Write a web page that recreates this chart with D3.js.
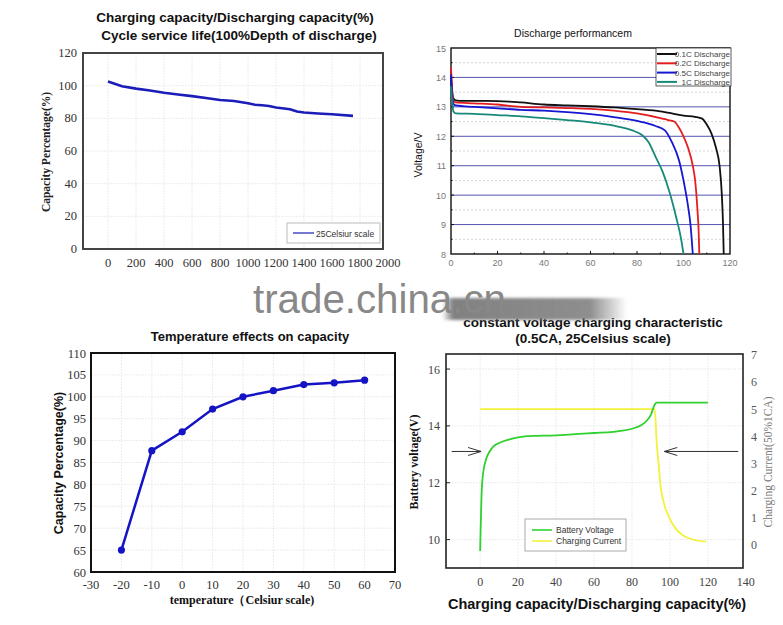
<!DOCTYPE html>
<html>
<head>
<meta charset="utf-8">
<script src="https://cdn.jsdelivr.net/npm/d3@7"></script>
<style>
  body { margin: 0; background: #fff; }
  svg { display: block; }
  .sans { font-family: "Liberation Sans", Arial, sans-serif; }
  .serif { font-family: "Liberation Serif", "Times New Roman", serif; }
</style>
</head>
<body>
<div id="chart"></div>
<script>
// ---- Cycle life (top left)
const cycleX = [0, 100, 200, 300, 400, 500, 600, 700, 800, 900, 1000, 1050, 1100, 1150, 1200, 1300, 1350, 1400, 1500, 1600, 1750];
const cycleY = [102.5, 99.7, 98.2, 97, 95.7, 94.6, 93.6, 92.5, 91.2, 90.6, 89.2, 88.3, 88, 87.6, 86.6, 85.6, 84.2, 83.6, 83, 82.5, 81.5];
const cycleXTicks = [0, 200, 400, 600, 800, 1000, 1200, 1400, 1600, 1800, 2000];
const cycleYTicks = [0, 20, 40, 60, 80, 100, 120];

// ---- Discharge performance (top right)
const dischargeNames = ["0.1C Discharge", "0.2C Discharge", "0.5C Discharge", "1C Discharge"];
const dischargeColors = ["#111111", "#e41e1e", "#1616d2", "#17897a"];
const discharge01X = [0, 0.5, 1, 2, 5, 15, 25, 30, 40, 50, 60, 70, 80, 90, 95, 100, 105, 108, 110, 112, 114, 115.5, 116.5, 117, 117.3];
const discharge01Y = [14.0, 13.5, 13.3, 13.22, 13.2, 13.2, 13.18, 13.15, 13.08, 13.05, 13.02, 12.98, 12.92, 12.85, 12.78, 12.7, 12.66, 12.6, 12.4, 12.1, 11.6, 11.0, 10.0, 9.0, 8.0];
const discharge02X = [0, 0.5, 1, 2, 10, 20, 30, 40, 50, 60, 70, 80, 90, 93, 96, 98, 100, 102, 104, 105, 106, 106.5, 106.8];
const discharge02Y = [14.35, 13.6, 13.2, 13.15, 13.12, 13.08, 13.0, 12.98, 12.96, 12.93, 12.87, 12.78, 12.62, 12.56, 12.5, 12.3, 12.0, 11.6, 11.0, 10.5, 9.5, 8.8, 8.0];
const discharge05X = [0, 0.5, 1, 2, 10, 20, 30, 40, 50, 60, 70, 80, 88, 92, 95, 98, 100, 102, 103, 104];
const discharge05Y = [14.1, 13.4, 13.1, 13.05, 13.0, 12.95, 12.9, 12.87, 12.82, 12.75, 12.65, 12.52, 12.35, 12.2, 11.8, 11.2, 10.5, 9.6, 9.0, 8.0];
const discharge1X = [0, 0.5, 1, 2, 10, 20, 30, 40, 50, 60, 70, 78, 82, 85, 88, 91, 94, 97, 99, 100];
const discharge1Y = [13.7, 13.2, 12.85, 12.78, 12.76, 12.72, 12.68, 12.62, 12.55, 12.47, 12.36, 12.2, 12.05, 11.8, 11.3, 10.8, 10.1, 9.2, 8.5, 8.0];
const dischargeXTicks = [0, 20, 40, 60, 80, 100, 120];
const dischargeYTicks = [8, 9, 10, 11, 12, 13, 14, 15];

// ---- Temperature (bottom left)
const tempX = [-20, -10, 0, 10, 20, 30, 40, 50, 60];
const tempY = [65, 87.7, 92, 97.2, 100, 101.4, 102.8, 103.2, 103.8];
const tempXTicks = [-30, -20, -10, 0, 10, 20, 30, 40, 50, 60, 70];
const tempYTicks = [60, 65, 70, 75, 80, 85, 90, 95, 100, 105, 110];

// ---- Charging characteristic (bottom right)
const chargeVX = [0, 0.3, 0.7, 1.5, 3, 5, 7, 10, 15, 20, 25, 30, 40, 50, 60, 70, 75, 80, 85, 88, 90, 92, 93, 100, 120];
const chargeVY = [9.6, 10.5, 11.5, 12.3, 12.8, 13.1, 13.28, 13.4, 13.52, 13.6, 13.64, 13.65, 13.67, 13.71, 13.75, 13.79, 13.83, 13.9, 14.03, 14.2, 14.4, 14.75, 14.82, 14.82, 14.82];
const chargeIX = [0, 92, 93, 94, 95, 97, 100, 103, 107, 112, 119];
const chargeIY = [5, 5, 3.8, 3.0, 2.2, 1.5, 0.95, 0.6, 0.35, 0.2, 0.12];
const chargeXTicks = [0, 20, 40, 60, 80, 100, 120, 140];
const chargeVTicks = [10, 12, 14, 16];
const chargeITicks = [0, 1, 2, 3, 4, 5, 6, 7];
const chargeNames = ["Battery Voltage", "Charging Current"];
const chargeColors = ["#2fd12f", "#f2f23a"];

const W = 783, H = 625;
const svg = d3.select("#chart").append("svg").attr("width", W).attr("height", H);

function zip(xs, ys) { return xs.map((x, i) => [x, ys[i]]); }

function grid(g, x, y, xt, yt, color, dash) {
    g.selectAll(null).data(xt).enter().append("line")
        .attr("x1", d => x(d)).attr("x2", d => x(d))
        .attr("y1", y.range()[0]).attr("y2", y.range()[1])
        .attr("stroke", color).attr("stroke-dasharray", dash);
    g.selectAll(null).data(yt).enter().append("line")
        .attr("y1", d => y(d)).attr("y2", d => y(d))
        .attr("x1", x.range()[0]).attr("x2", x.range()[1])
        .attr("stroke", color).attr("stroke-dasharray", dash);
}

function frame(g, x, y, color, width) {
    g.append("rect")
        .attr("x", x.range()[0]).attr("y", y.range()[1])
        .attr("width", x.range()[1] - x.range()[0])
        .attr("height", y.range()[0] - y.range()[1])
        .attr("fill", "none").attr("stroke", color).attr("stroke-width", width);
}

function labels(g, ticks, fx, fy, anchor, cls, size, color) {
    g.selectAll(null).data(ticks).enter().append("text")
        .attr("class", cls)
        .attr("x", fx).attr("y", fy)
        .attr("text-anchor", anchor)
        .attr("font-size", size).attr("fill", color)
        .text(d => d);
}

function title(text, x, y, size, cls, weight, color) {
    return svg.append("text").attr("class", cls || "sans")
        .attr("x", x).attr("y", y).attr("text-anchor", "middle")
        .attr("font-size", size).attr("font-weight", weight || "bold")
        .attr("fill", color || "#111").text(text);
}

function vtitle(text, x, y, size, cls, weight, color) {
    return svg.append("text").attr("class", cls)
        .attr("transform", `translate(${x},${y}) rotate(-90)`)
        .attr("text-anchor", "middle")
        .attr("font-size", size).attr("font-weight", weight)
        .attr("fill", color).text(text);
}

// ================= Cycle service life =================
{
    const g = svg.append("g");
    const x = d3.scaleLinear().domain([0, 2000]).range([108, 388]);
    const y = d3.scaleLinear().domain([0, 120]).range([249, 53]);
    const x0 = 83, x1 = 383;
    const xb = d3.scaleLinear().domain([x.invert(x0), x.invert(x1)]).range([x0, x1]);
    grid(g, xb, y, cycleXTicks.filter(d => x(d) < x1), cycleYTicks, "#ececec", "2,1");
    frame(g, xb, y, "#444", 2);
    labels(g, cycleXTicks, d => x(d), 267, "middle", "serif", 12.5, "#333");
    labels(g, cycleYTicks, 77, d => y(d) + 4, "end", "serif", 12.5, "#333");
    g.append("path").datum(zip(cycleX, cycleY))
        .attr("d", d3.line().x(d => x(d[0])).y(d => y(d[1])))
        .attr("fill", "none").attr("stroke", "#1c1cb8").attr("stroke-width", 2.6);
    // legend
    g.append("rect").attr("x", 287).attr("y", 223).attr("width", 93).attr("height", 20)
        .attr("fill", "#fff").attr("stroke", "#bbb");
    g.append("line").attr("x1", 293).attr("x2", 314).attr("y1", 233).attr("y2", 233)
        .attr("stroke", "#1c1cb8").attr("stroke-width", 1.2);
    g.append("text").attr("class", "sans").attr("x", 316).attr("y", 237)
        .attr("font-size", 8.5).attr("fill", "#333").text("25Celsiur scale");
    title("Charging capacity/Discharging capacity(%)", 235, 22, 13.5);
    title("Cycle service life(100%Depth of discharge)", 239, 40, 13.5);
    vtitle("Capacity Percentage(%)", 50, 152, 11.5, "serif", "bold", "#222");
}

// ================= Discharge performance =================
{
    const g = svg.append("g");
    const x = d3.scaleLinear().domain([0, 120]).range([451, 730]);
    const y = d3.scaleLinear().domain([8, 15]).range([254, 48]);
    const half = d3.range(8.5, 15, 1);
    g.selectAll(null).data(half).enter().append("line")
        .attr("x1", x(0)).attr("x2", x(120)).attr("y1", d => y(d)).attr("y2", d => y(d))
        .attr("stroke", "#d6d6d6").attr("stroke-dasharray", "2,2");
    g.selectAll(null).data(dischargeYTicks.slice(1, -1)).enter().append("line")
        .attr("x1", x(0)).attr("x2", x(120)).attr("y1", d => y(d)).attr("y2", d => y(d))
        .attr("stroke", "#5555b0").attr("stroke-width", 1);
    frame(g, x, y, "#111", 1.4);
    // minor ticks
    g.selectAll(null).data(d3.range(10, 120, 10)).enter().append("line")
        .attr("x1", d => x(d)).attr("x2", d => x(d)).attr("y1", y(8))
        .attr("y2", (d, i) => y(8) - (i % 2 ? 3 : 1.5)).attr("stroke", "#111");
    g.selectAll(null).data(d3.range(8.5, 15, 0.5)).enter().append("line")
        .attr("x1", x(0)).attr("x2", (d, i) => x(0) + (i % 2 ? 3 : 1.5))
        .attr("y1", d => y(d)).attr("y2", d => y(d)).attr("stroke", "#111");
    labels(g, dischargeXTicks, d => x(d), 266, "middle", "sans", 9, "#777");
    labels(g, dischargeYTicks, 446, d => y(d) + 3.5, "end", "sans", 9, "#777");
    const series = [zip(discharge01X, discharge01Y), zip(discharge02X, discharge02Y),
                    zip(discharge05X, discharge05Y), zip(discharge1X, discharge1Y)];
    const line = d3.line().x(d => x(d[0])).y(d => y(d[1])).curve(d3.curveMonotoneX);
    g.selectAll(null).data(series).enter().append("path")
        .attr("d", line).attr("fill", "none")
        .attr("stroke", (d, i) => dischargeColors[i]).attr("stroke-width", 1.8);
    // legend
    g.append("rect").attr("x", 656).attr("y", 48).attr("width", 75).attr("height", 38)
        .attr("fill", "#fff").attr("stroke", "#333").attr("stroke-width", 0.8);
    dischargeNames.forEach((n, i) => {
        const yy = 54 + i * 9.3;
        g.append("line").attr("x1", 657).attr("x2", 677).attr("y1", yy).attr("y2", yy)
            .attr("stroke", dischargeColors[i]).attr("stroke-width", 2);
        g.append("text").attr("class", "sans").attr("x", 730).attr("y", yy + 3)
            .attr("text-anchor", "end").attr("font-size", 8).attr("fill", "#444").text(n);
    });
    title("Discharge performancem", 573, 37, 10.5, "sans", "normal", "#111");
    vtitle("Voltage/V", 422, 155, 10.5, "sans", "normal", "#111");
}

// ================= Temperature effects =================
{
    const g = svg.append("g");
    const x = d3.scaleLinear().domain([-30, 70]).range([91, 395]);
    const y = d3.scaleLinear().domain([60, 110]).range([572, 353]);
    grid(g, x, y, tempXTicks.slice(1, -1), tempYTicks.slice(1, -1), "#ececec", "2,1");
    frame(g, x, y, "#111", 2);
    labels(g, tempXTicks, d => x(d), 589, "middle", "serif", 12.5, "#333");
    labels(g, tempYTicks, 86, d => y(d) + 4.5, "end", "serif", 12.5, "#333");
    const pts = zip(tempX, tempY);
    g.append("path").datum(pts)
        .attr("d", d3.line().x(d => x(d[0])).y(d => y(d[1])))
        .attr("fill", "none").attr("stroke", "#1414c4").attr("stroke-width", 2.5);
    g.selectAll(null).data(pts).enter().append("circle")
        .attr("cx", d => x(d[0])).attr("cy", d => y(d[1])).attr("r", 3.6)
        .attr("fill", "#1414c4");
    title("Temperature effects on capacity", 250, 341, 13);
    vtitle("Capacity Percentage(%)", 63, 463, 12.5, "sans", "bold", "#111");
    title("temperature（Celsiur scale)", 242, 604, 12, "serif", "bold", "#111");
}

// ================= Charging characteristic =================
{
    const g = svg.append("g");
    const x = d3.scaleLinear().domain([-18, 138.5]).range([446, 743]);
    const yV = d3.scaleLinear().domain([9, 16.53]).range([568, 354]);
    const yI = d3.scaleLinear().domain([-0.85, 7.03]).range([568, 354]);
    grid(g, x, yV, chargeXTicks.slice(0, -1), chargeVTicks, "#ececec", "2,1");
    frame(g, x, yV, "#222", 1.6);
    labels(g, chargeXTicks, d => x(d), 586, "middle", "serif", 12, "#444");
    labels(g, chargeVTicks, 440, d => yV(d) + 4.5, "end", "serif", 12, "#444");
    labels(g, chargeITicks, 751, d => yI(d) + 4.5, "start", "serif", 12, "#555");
    g.selectAll(null).data(chargeVTicks).enter().append("line")
        .attr("x1", 446).attr("x2", 450).attr("y1", d => yV(d)).attr("y2", d => yV(d)).attr("stroke", "#222");
    g.append("path").datum(zip(chargeIX, chargeIY))
        .attr("d", d3.line().x(d => x(d[0])).y(d => yI(d[1])).curve(d3.curveMonotoneX))
        .attr("fill", "none").attr("stroke", chargeColors[1]).attr("stroke-width", 1.8);
    g.append("path").datum(zip(chargeVX, chargeVY))
        .attr("d", d3.line().x(d => x(d[0])).y(d => yV(d[1])).curve(d3.curveMonotoneX))
        .attr("fill", "none").attr("stroke", chargeColors[0]).attr("stroke-width", 1.8);
    // arrows
    const arrowV = 13.1;
    const arrows = [[-15, 0.5], [136, 97]];
    arrows.forEach(([a, b]) => {
        const dir = Math.sign(b - a);
        const xa = x(a), xe = x(b), yy = yV(arrowV);
        g.append("line").attr("x1", xa).attr("x2", xe).attr("y1", yy).attr("y2", yy)
            .attr("stroke", "#333").attr("stroke-width", 1);
        g.append("path")
            .attr("d", `M${xe - dir * 13},${yy - 4}L${xe},${yy}L${xe - dir * 13},${yy + 4}`)
            .attr("fill", "none").attr("stroke", "#333").attr("stroke-width", 1);
    });
    // legend
    g.append("rect").attr("x", 525).attr("y", 519).attr("width", 101).attr("height", 32)
        .attr("fill", "#fff").attr("stroke", "#aaa");
    chargeNames.forEach((n, i) => {
        const yy = 530 + i * 11;
        g.append("line").attr("x1", 532).attr("x2", 552).attr("y1", yy).attr("y2", yy)
            .attr("stroke", chargeColors[i]).attr("stroke-width", 1.6);
        g.append("text").attr("class", "sans").attr("x", 556).attr("y", yy + 3)
            .attr("font-size", 8.5).attr("fill", "#333").text(n);
    });
    title("constant voltage charging characteristic", 593, 327, 13.5);
    title("(0.5CA, 25Celsius scale)", 593, 343, 13.5);
    vtitle("Battery voltage(V)", 418, 462, 12, "serif", "bold", "#111");
    vtitle("Charging Current(50%1CA)", 772, 462, 11.5, "serif", "normal", "#777");
    title("Charging capacity/Discharging capacity(%)", 597, 609, 14.5);
}

// ================= watermark =================
{
    const defs = svg.append("defs");
    const grad = defs.append("linearGradient").attr("id", "bar");
    [[0, 0], [0.06, 0.95], [0.8, 0.85], [1, 0]].forEach(([o, a]) =>
        grad.append("stop").attr("offset", o).attr("stop-color", "#7a7a7a").attr("stop-opacity", a));
    const blur = defs.append("filter").attr("id", "soft").attr("x", "-20%").attr("y", "-50%")
        .attr("width", "140%").attr("height", "200%");
    blur.append("feGaussianBlur").attr("stdDeviation", 1.8);
    svg.append("rect").attr("x", 442).attr("y", 298).attr("width", 185).attr("height", 22)
        .attr("fill", "url(#bar)").attr("filter", "url(#soft)");
    svg.append("text").attr("class", "sans")
        .attr("x", 253).attr("y", 313).attr("font-size", 41)
        .attr("textLength", 253).attr("lengthAdjust", "spacingAndGlyphs")
        .attr("fill", "#888").text("trade.china.cn");
}
</script>
</body>
</html>
